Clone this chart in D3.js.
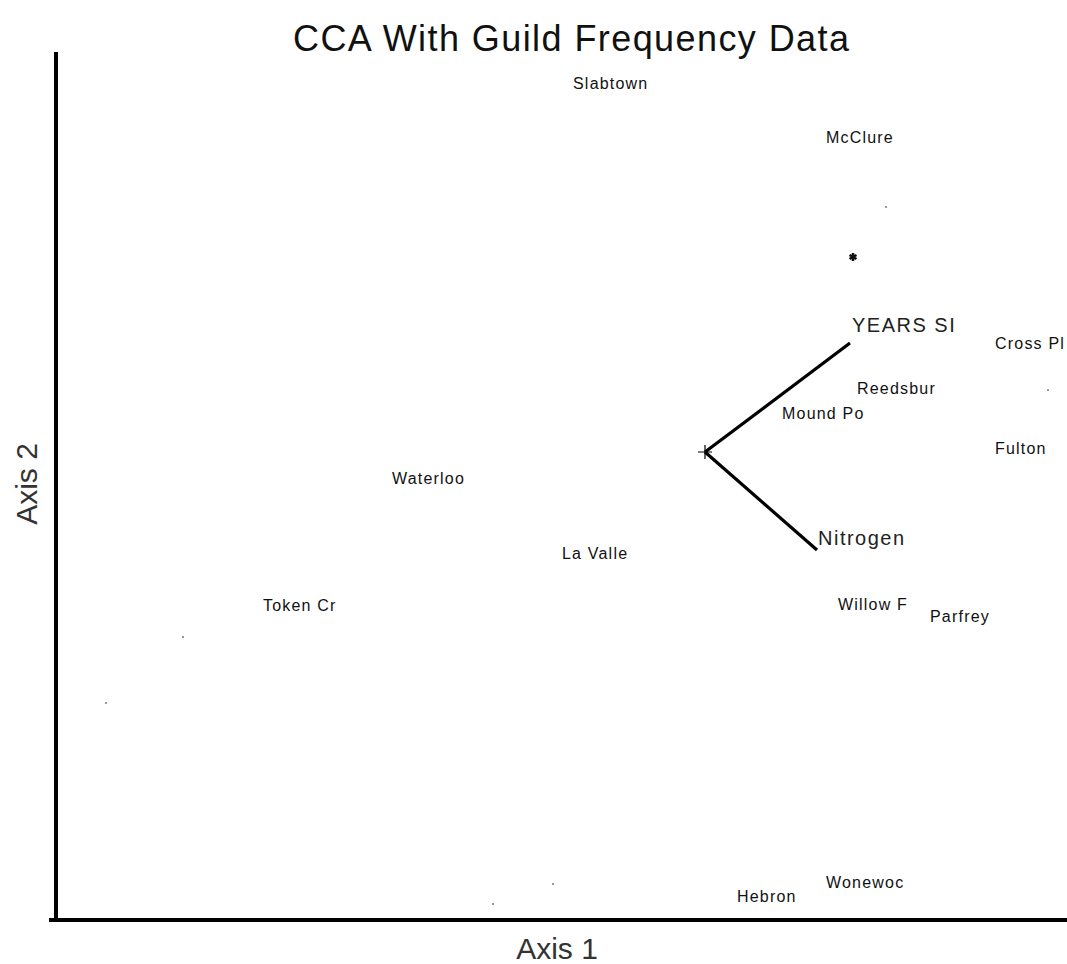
<!DOCTYPE html>
<html>
<head>
<meta charset="utf-8">
<script src="https://cdn.jsdelivr.net/npm/d3@7"></script>
<style>
  html, body { margin: 0; padding: 0; background: #fff; }
  svg { display: block; font-family: 'Liberation Sans', Arial, sans-serif; }
  .site { font-size: 16px; fill: #111; letter-spacing: 1.2px; }
  .vec-label { font-size: 20px; fill: #222; letter-spacing: 1.5px; }
  .axis-title { font-size: 30px; fill: #333; }
</style>
</head>
<body>
<div id="chart"></div>
<script>
// site scores (label anchor = left edge of text)
const siteNames = ['Slabtown', 'McClure', 'Cross Pl', 'Reedsbur', 'Mound Po', 'Fulton',
  'Waterloo', 'La Valle', 'Token Cr', 'Willow F', 'Parfrey', 'Hebron', 'Wonewoc']
const siteAxis1 = [-0.528, 0.484, 1.16, 0.608, 0.308, 1.16, -1.252, -0.572, -1.768, 0.532, 0.90, 0.128, 0.484]
const siteAxis2 = [1.476, 1.26, 0.436, 0.256, 0.156, 0.016, -0.104, -0.404, -0.612, -0.608, -0.656, -1.776, -1.72]

// unlabelled points
const dotAxis1 = [0.724, 1.372, -2.088, -2.396, -0.608, -0.848]
const dotAxis2 = [0.98, 0.248, -0.74, -1.004, -1.728, -1.808]
const clusterAxis1 = [0.592]
const clusterAxis2 = [0.78]

// biplot vectors
const vecNames = ['YEARS SI', 'Nitrogen']
const vecAxis1 = [0.58, 0.448]
const vecAxis2 = [0.436, -0.392]

const title = 'CCA With Guild Frequency Data'

const width = 1067
const height = 964
const margin = { top: 52, right: 5, bottom: 44, left: 57 }

function chart() {
  const svg = d3.select('#chart').append('svg')
    .attr('width', width)
    .attr('height', height)

  const x = d3.scaleLinear()
    .domain([-2.592, 1.428])
    .range([margin.left, width - margin.right])
  const y = d3.scaleLinear()
    .domain([-1.872, 1.6])
    .range([height - margin.bottom, margin.top])

  // title + axis titles
  svg.append('text')
    .attr('x', 571)
    .attr('y', 51)
    .attr('text-anchor', 'middle')
    .attr('textLength', 556)
    .style('font-size', '36px')
    .style('fill', '#111')
    .text(title)

  svg.append('text')
    .attr('class', 'axis-title')
    .attr('x', 557)
    .attr('y', 959)
    .attr('text-anchor', 'middle')
    .text('Axis 1')

  svg.append('text')
    .attr('class', 'axis-title')
    .attr('transform', 'translate(37,484) rotate(-90)')
    .attr('text-anchor', 'middle')
    .text('Axis 2')

  // axes drawn as heavy lines (no ticks)
  svg.append('line')
    .attr('x1', x.range()[0] - 1).attr('x2', x.range()[0] - 1)
    .attr('y1', y.range()[1]).attr('y2', y.range()[0] + 2)
    .attr('stroke', '#000').attr('stroke-width', 4)
  svg.append('line')
    .attr('x1', x.range()[0] - 8).attr('x2', width)
    .attr('y1', y.range()[0]).attr('y2', y.range()[0])
    .attr('stroke', '#000').attr('stroke-width', 4)

  // faint points
  const dots = dotAxis1.map((v, i) => ({ a1: v, a2: dotAxis2[i] }))
  svg.append('g').selectAll('rect')
    .data(dots)
    .enter()
    .append('rect')
    .attr('x', d => x(d.a1) - 1)
    .attr('y', d => y(d.a2) - 1)
    .attr('width', 2)
    .attr('height', 2)
    .attr('fill', '#999')

  const cluster = clusterAxis1.map((v, i) => ({ a1: v, a2: clusterAxis2[i] }))
  svg.append('g').selectAll('path')
    .data(cluster)
    .enter()
    .append('path')
    .attr('transform', d => 'translate(' + x(d.a1) + ',' + y(d.a2) + ')')
    .attr('d', d3.symbol().type(d3.symbolAsterisk).size(45))
    .attr('stroke', '#111')
    .attr('stroke-width', 2.5)
    .attr('fill', '#111')

  // biplot vectors
  const vecs = vecNames.map((n, i) => ({ name: n, a1: vecAxis1[i], a2: vecAxis2[i] }))
  const gv = svg.append('g')
  gv.append('path')
    .attr('d', 'M' + (x(0) - 7) + ',' + y(0) + 'H' + (x(0) + 7) + 'M' + x(0) + ',' + (y(0) - 7) + 'V' + (y(0) + 7))
    .attr('stroke', '#000')
    .attr('stroke-width', 1.2)
  gv.selectAll('.vec')
    .data(vecs)
    .enter()
    .append('line')
    .attr('class', 'vec')
    .attr('x1', x(0)).attr('y1', y(0))
    .attr('x2', d => x(d.a1)).attr('y2', d => y(d.a2))
    .attr('stroke', '#000')
    .attr('stroke-width', 3.2)
  gv.selectAll('.vec-label')
    .data(vecs)
    .enter()
    .append('text')
    .attr('class', 'vec-label')
    .attr('x', d => x(d.a1) + (d.a2 > 0 ? 2 : 1))
    .attr('y', d => y(d.a2) + (d.a2 > 0 ? -18 : -12))
    .attr('dy', '0.35em')
    .text(d => d.name)

  // site labels
  const sites = siteNames.map((n, i) => ({ name: n, a1: siteAxis1[i], a2: siteAxis2[i] }))
  svg.append('g').selectAll('.site')
    .data(sites)
    .enter()
    .append('text')
    .attr('class', 'site')
    .attr('x', d => x(d.a1))
    .attr('y', d => y(d.a2))
    .attr('dy', '0.35em')
    .text(d => d.name)
}

chart()
</script>
</body>
</html>
